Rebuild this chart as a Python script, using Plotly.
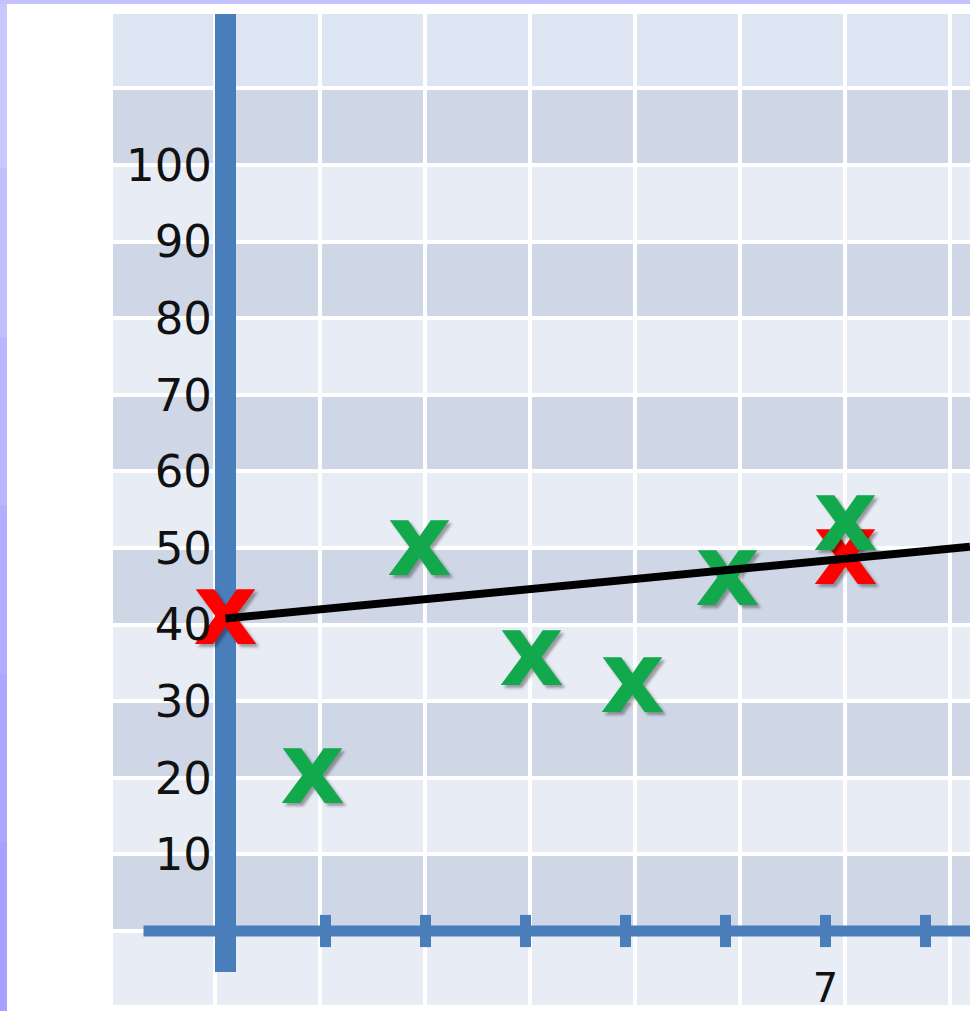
import plotly.graph_objects as go

# ---- data -------------------------------------------------------------
red_x = [1.0, 7.2]
red_y = [40.8, 48.6]
green_x = [1.87, 2.94, 4.06, 5.07, 6.02, 7.2]
green_y = [20.0, 49.8, 35.4, 31.8, 45.8, 53.0]

y_tick_vals = [0, 10, 20, 30, 40, 50, 60, 70, 80, 90, 100, 110]
y_tick_text = ["", "10", "20", "30", "40", "50", "60", "70", "80", "90", "100", ""]
x_tick_vals = [2, 3, 4, 5, 6, 7, 8]
x_label_vals = [7]
x_label_text = ["7"]

# ---- geometry / style -------------------------------------------------
W, H = 970, 1011
ML, MR, MT, MB = 113, 0, 14, 6
PLOT_W, PLOT_H = W - ML - MR, H - MT - MB
PX_PER_X = 100.0          # pixels per x unit
ORIGIN_X = 1.0            # x value where the vertical axis sits
ORIGIN_PX = 225.5         # pixel column of the vertical axis
x_range = [ORIGIN_X - (ORIGIN_PX - ML) / PX_PER_X, 0]
x_range[1] = x_range[0] + PLOT_W / PX_PER_X
y_range = [-9.66, 119.72]

AXIS_BLUE = "#4a7ebb"
BAND_DARK = "#cfd6e5"
BAND_LIGHT = "#e8ecf4"
BAND_TOP = "#dce5f1"
CELL_W = 1.05             # column width of the background grid, in x units
GRID0 = ORIGIN_X - 0.105  # first column line
MARK = "x"
MARK_SIZE = 100

# trend line through the two red readings, carried to the right edge
slope = (red_y[1] - red_y[0]) / (red_x[1] - red_x[0])
trend_x = [red_x[0], x_range[1]]
trend_y = [red_y[0] + slope * (x - red_x[0]) for x in trend_x]

fig = go.Figure()

# tick marks crossing the horizontal axis
fig.add_trace(go.Scatter(
    x=x_tick_vals, y=[0] * len(x_tick_vals), xaxis="x2", yaxis="y",
    mode="markers", hoverinfo="skip", showlegend=False,
    marker=dict(symbol="line-ns", size=23,
                line=dict(color=AXIS_BLUE, width=11)),
))

shadow = "3px 3px 3px rgba(0,0,0,0.35)"
fig.add_trace(go.Scatter(
    x=red_x, y=red_y, mode="text", text=[MARK] * len(red_x),
    textposition="middle center", showlegend=False, hoverinfo="skip",
    textfont=dict(family="DejaVu Sans", size=MARK_SIZE, weight="bold",
                  color="#ff0000", shadow=shadow),
))
fig.add_trace(go.Scatter(
    x=green_x, y=green_y, mode="text", text=[MARK] * len(green_x),
    textposition="middle center", showlegend=False, hoverinfo="skip",
    textfont=dict(family="DejaVu Sans", size=MARK_SIZE, weight="bold",
                  color="#12a84c", shadow=shadow),
))
fig.add_trace(go.Scatter(
    x=trend_x, y=trend_y, mode="lines", showlegend=False, hoverinfo="skip",
    line=dict(color="#000000", width=8),
))

shapes = []
# horizontal colour bands behind the grid
lo = -10
while lo < y_range[1]:
    if lo >= 110:
        col = BAND_TOP
    elif (lo // 10) % 2 == 0:
        col = BAND_DARK
    else:
        col = BAND_LIGHT
    shapes.append(dict(type="rect", layer="below", xref="paper", yref="y",
                       x0=0, x1=1, y0=lo, y1=lo + 10,
                       fillcolor=col, line=dict(width=0)))
    lo += 10

# the two blue axes
shapes.append(dict(type="line", layer="between", xref="x", yref="y",
                   xsizemode="pixel", xanchor=ORIGIN_X, x0=-82, x1=1000,
                   y0=0, y1=0, line=dict(color=AXIS_BLUE, width=11)))
shapes.append(dict(type="line", layer="between", xref="x", yref="y",
                   x0=ORIGIN_X, x1=ORIGIN_X,
                   ysizemode="pixel", yanchor=0, y0=-41, y1=1100,
                   line=dict(color=AXIS_BLUE, width=21)))

# lavender page border (left and top)
border_cols = ["#c9c8fd", "#c2bffd", "#bbb6fe", "#b4adfe", "#ada5ff", "#a99fff"]
n = len(border_cols)
span = 1 + (MT + MB) / PLOT_H
for i, c in enumerate(border_cols):
    shapes.append(dict(type="rect", layer="above", xref="paper", yref="paper",
                       xsizemode="pixel", xanchor=0, x0=-ML, x1=-ML + 7,
                       y0=1 + MT / PLOT_H - (i + 1) * span / n - 0.001,
                       y1=1 + MT / PLOT_H - i * span / n,
                       fillcolor=c, line=dict(width=0)))
shapes.append(dict(type="rect", layer="above", xref="paper", yref="paper",
                   ysizemode="pixel", yanchor=1, y0=MT - 4, y1=MT,
                   x0=-ML / PLOT_W, x1=1,
                   fillcolor="#c3c2fc", line=dict(width=0)))

y0_paper = (0 - y_range[0]) / (y_range[1] - y_range[0])

fig.update_layout(
    width=W, height=H,
    margin=dict(l=ML, r=MR, t=MT, b=MB, pad=0),
    paper_bgcolor="#ffffff", plot_bgcolor="#ffffff",
    shapes=shapes, showlegend=False,
    xaxis=dict(range=x_range, showgrid=True, gridcolor="#ffffff", gridwidth=4,
               tickmode="linear", tick0=GRID0, dtick=CELL_W,
               showticklabels=False, ticks="", zeroline=False,
               showline=False, fixedrange=True),
    xaxis2=dict(range=x_range, overlaying="x", anchor="free",
                position=y0_paper, side="bottom",
                tickmode="array", tickvals=x_label_vals, ticktext=x_label_text,
                showgrid=False, zeroline=False, showline=False, ticks="",
                ticklabelstandoff=30,
                tickfont=dict(family="DejaVu Sans", size=40, color="#111111"),
                fixedrange=True),
    yaxis=dict(range=y_range, anchor="free", position=(212 - ML) / PLOT_W,
               side="left", tickmode="array", tickvals=y_tick_vals,
               ticktext=y_tick_text, showgrid=True, gridcolor="#ffffff",
               gridwidth=4, zeroline=False, showline=False, ticks="",
               ticklabelstandoff=0,
               tickfont=dict(family="DejaVu Sans", size=45, color="#111111"),
               fixedrange=True),
)

fig.write_html("out.html")
